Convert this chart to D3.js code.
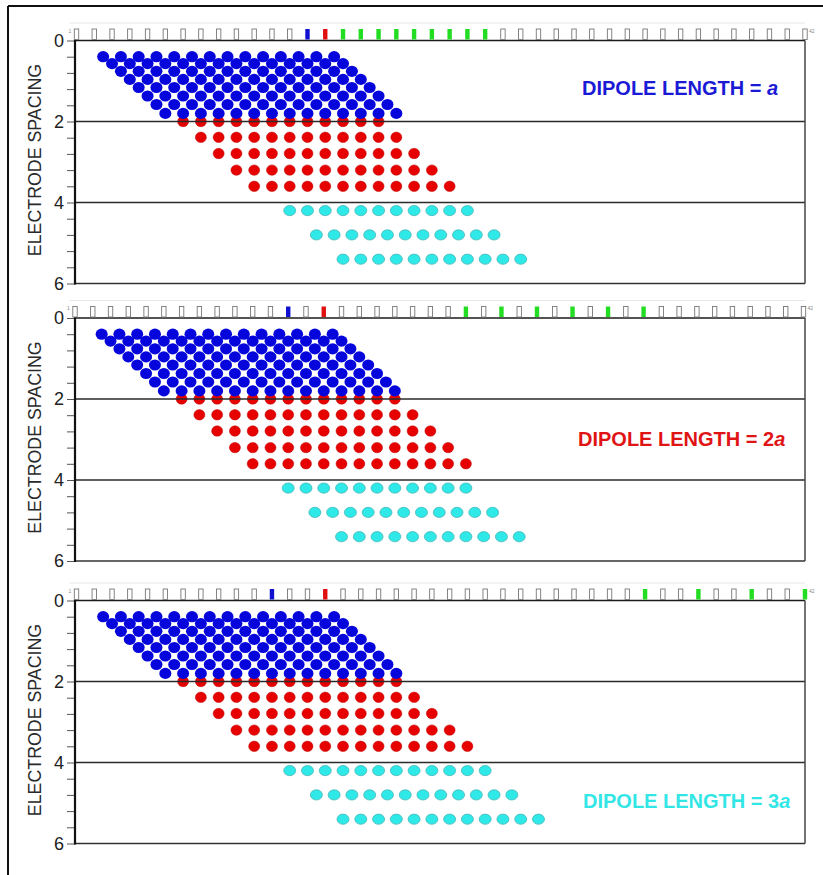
<!DOCTYPE html>
<html><head><meta charset="utf-8">
<script src="https://cdn.jsdelivr.net/npm/d3@7"></script>
<style>body{margin:0;background:#fff} svg{display:block;font-family:"Liberation Sans",Arial,sans-serif}</style>
</head><body><svg id="c" width="823" height="875"></svg>
<script>
// ---- data ----
const panelSuffix = ["", "2", "3"];           // DIPOLE LENGTH = a, 2a, 3a
const panelColors = ["#1a1ad6", "#e01414", "#33e6e6"];
const yTickValues = [0,0.4,0.8,1.2,1.6,2,2.4,2.8,3.2,3.6,4,4.4,4.8,5.2,5.6,6];
const yTickLabels = [0,2,4,6];
const dividerLines = [2,4];
const electrodeIds = d3.range(1,43);
const blueElectrode = [14,13,12];
const redElectrode  = [15,15,15];
const greenElectrodes = [
  [16,17,18,19,20,21,22,23,24],
  [23,25,27,29,31,33],
  [33,36,39,42]
];
// dots: rows (pseudo-depth, first electrode position, dot count per panel)
const blueDepths = [0.40,0.57,0.76,0.96,1.16,1.37,1.58,1.80];
const blueStarts = [2.5,3,3.5,4,4.5,5,5.5,6];
const blueCounts = [14,14,14];
const redDepths = [2.0,2.39,2.79,3.2,3.6];
const redStarts = [7,8,9,10,11];
const redCounts = [12,13,13];
const cyanDepths = [4.2,4.8,5.4];
const cyanStarts = [13,14.5,16];
const cyanCounts = [11,11,12];

// ---- layout ----
const panelTops = [40.5, 318, 600.5];
const panelH = 243;
const xLeft = 75, xRight = 805;
const xOffsets = [0,-1.5,0];
const textPos = [{x:582,y:1.35},{x:578,y:3.16},{x:583,y:5.12}];

const svg = d3.select("#c");
// outer frame
svg.append("line").attr("x1",8).attr("x2",8).attr("y1",6).attr("y2",875).attr("stroke","#111").attr("stroke-width",2);
svg.append("line").attr("x1",8).attr("x2",823).attr("y1",6).attr("y2",6).attr("stroke","#111").attr("stroke-width",2);

function buildRows(depths, starts, count){
  const pts=[];
  depths.forEach((d,i)=>{ for(let k=0;k<count;k++) pts.push({x:starts[i]+k, y:d}); });
  return pts;
}

panelTops.forEach((top,p)=>{
  const g = svg.append("g");
  const x = d3.scaleLinear([1,42],[76.5+xOffsets[p],805+xOffsets[p]]);
  const y = d3.scaleLinear([0,6],[top, top+panelH]);

  // faint guide above electrodes
  g.append("line").attr("x1",70).attr("x2",xRight).attr("y1",top-17.5).attr("y2",top-17.5)
    .attr("stroke","#e6e6e6").attr("stroke-width",1);

  // y axis ticks
  const axis = d3.axisLeft(y).tickValues(yTickValues).tickSize(8).tickFormat(d=> yTickLabels.includes(Math.round(d*10)/10) ? d3.format("d")(d) : "");
  const ag = g.append("g").attr("transform",`translate(${xLeft},0)`).call(axis);
  ag.attr("font-size",null).attr("font-family",null);
  ag.select(".domain").remove();
  ag.selectAll(".tick line").attr("stroke","#555").attr("stroke-width",1);
  ag.selectAll(".tick text").style("font-size","18px").attr("fill","#222").attr("x",-11)
    .style("font-family","Liberation Sans, Arial, sans-serif");

  // axis label
  g.append("text").attr("transform",`translate(41,${top+panelH/2-2}) rotate(-90)`)
    .attr("text-anchor","middle").style("font-size","17.8px").attr("fill","#2a2a2a")
    .text("ELECTRODE SPACING");

  // dots: cyan, red, blue
  const cyan = buildRows(cyanDepths,cyanStarts,cyanCounts[p]);
  g.selectAll(".cy").data(cyan).join("ellipse").attr("cx",d=>x(d.x)).attr("cy",d=>y(d.y))
    .attr("rx",6).attr("ry",5.1).attr("fill","#2fe8e8").attr("stroke","#49b8b8").attr("stroke-width",0.8);
  const red = buildRows(redDepths,redStarts,redCounts[p]);
  g.selectAll(".rd").data(red).join("ellipse").attr("cx",d=>x(d.x)).attr("cy",d=>y(d.y))
    .attr("rx",5.5).attr("ry",5.2).attr("fill","#e60000").attr("stroke","#c00000").attr("stroke-width",0.5);
  const blue = buildRows(blueDepths,blueStarts,blueCounts[p]);
  g.selectAll(".bl").data(blue).join("ellipse").attr("cx",d=>x(d.x)).attr("cy",d=>y(d.y))
    .attr("rx",6).attr("ry",5.6).attr("fill","#0505dc");

  // divider lines
  dividerLines.forEach(v=>{
    g.append("line").attr("x1",xLeft).attr("x2",xRight).attr("y1",y(v)).attr("y2",y(v))
      .attr("stroke","#2a2a2a").attr("stroke-width",1.4);
  });
  // frame
  g.append("line").attr("x1",xLeft).attr("x2",xRight).attr("y1",y(0)).attr("y2",y(0)).attr("stroke","#1a1a1a").attr("stroke-width",1.6);
  g.append("line").attr("x1",xLeft).attr("x2",xRight).attr("y1",y(6)).attr("y2",y(6)).attr("stroke","#333").attr("stroke-width",1.5);
  g.append("line").attr("x1",xRight).attr("x2",xRight).attr("y1",y(0)).attr("y2",y(6)).attr("stroke","#444").attr("stroke-width",1.5);
  g.append("line").attr("x1",xLeft).attr("x2",xLeft).attr("y1",y(0)-1).attr("y2",y(6)+1).attr("stroke","#111").attr("stroke-width",2.2);

  // electrodes
  const fillOf = id => id===blueElectrode[p] ? "#1010d0" : id===redElectrode[p] ? "#e01010" : greenElectrodes[p].includes(id) ? "#22dd22" : "#fff";
  g.selectAll(".el").data(electrodeIds).join("rect")
    .attr("x",d=>x(d)-2.2).attr("y",top-11.5).attr("width",4.4).attr("height",10.5)
    .attr("fill",fillOf).attr("stroke",d=>fillOf(d)==="#fff"?"#777":"none").attr("stroke-width",0.9);
  g.append("text").attr("x",x(1)-8).attr("y",top-8).style("font-size","5px").attr("fill","#888").text("1");
  g.append("text").attr("x",x(42)+4).attr("y",top-8).style("font-size","5px").attr("fill","#888").text("42");

  // title
  const t = g.append("text").attr("x",textPos[p].x).attr("y",y(textPos[p].y))
    .style("font-size","20px").attr("font-weight","bold").attr("fill",panelColors[p]);
  t.append("tspan").text("DIPOLE LENGTH = " + panelSuffix[p]);
  t.append("tspan").attr("font-style","italic").text("a");
});
</script></body></html>
